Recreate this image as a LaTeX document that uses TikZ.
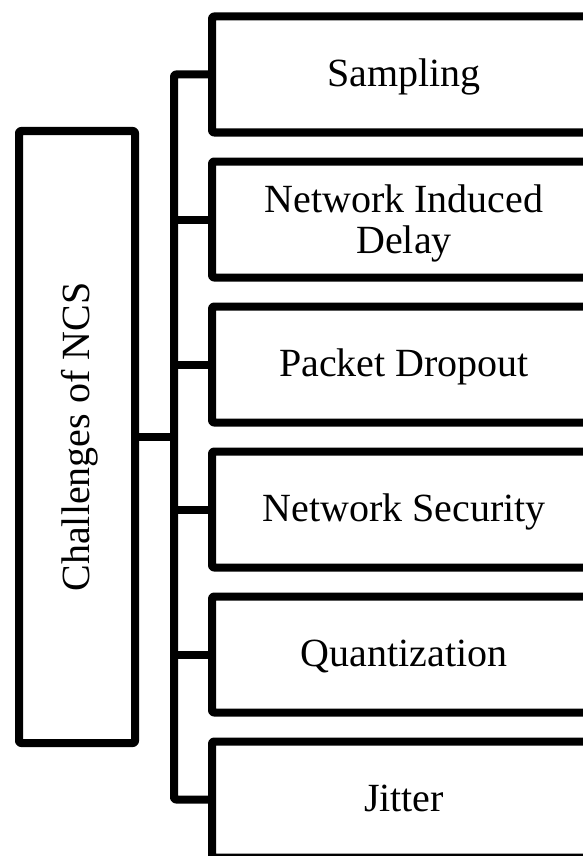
\documentclass[tikz,border=0pt]{standalone}
\usepackage{fontspec}
\setmainfont{Liberation Serif}
\begin{document}
\begin{tikzpicture}[x=1pt,y=-1pt,
  line join=round,
  boxbase/.style={draw, line width=8pt, rounded corners=2pt, inner sep=0pt, outer sep=0pt,
    align=center, font=\fontsize{40}{41}\selectfont},
  item/.style={boxbase, minimum width=384pt, minimum height=116pt},
  oneline/.style={text height=27pt, text depth=3pt},
  rootbox/.style={boxbase, oneline, rotate=90, minimum width=612pt, minimum height=116pt},
  link/.style={line width=8pt, rounded corners=2pt}]
\path[use as bounding box] (0,0) rectangle (583,856);
\clip (0,0) rectangle (583,856);
\node[rootbox] (L) at (77,437) {Challenges of NCS};
\node[item, oneline] (b1) at (404,74.5) {Sampling};
\node[item, text depth=0pt] (b2) at (404,219.5) {Network Induced\\Delay};
\node[item, oneline] (b3) at (404,364.5) {Packet Dropout};
\node[item, oneline] (b4) at (404,509.5) {Network Security};
\node[item, oneline] (b5) at (404,654.5) {Quantization};
\node[item, oneline] (b6) at (404,799.5) {Jitter};
\coordinate (t) at (174,0);
\draw[link] (b1.west) -- (b1.west -| t) -- (b6.west -| t) -- (b6.west);
\foreach \b in {b2,b3,b4,b5} \draw[link] (\b.west -| t) -- (\b.west);
\draw[link] (L.south) -- (L.south -| t);
\end{tikzpicture}
\end{document}
